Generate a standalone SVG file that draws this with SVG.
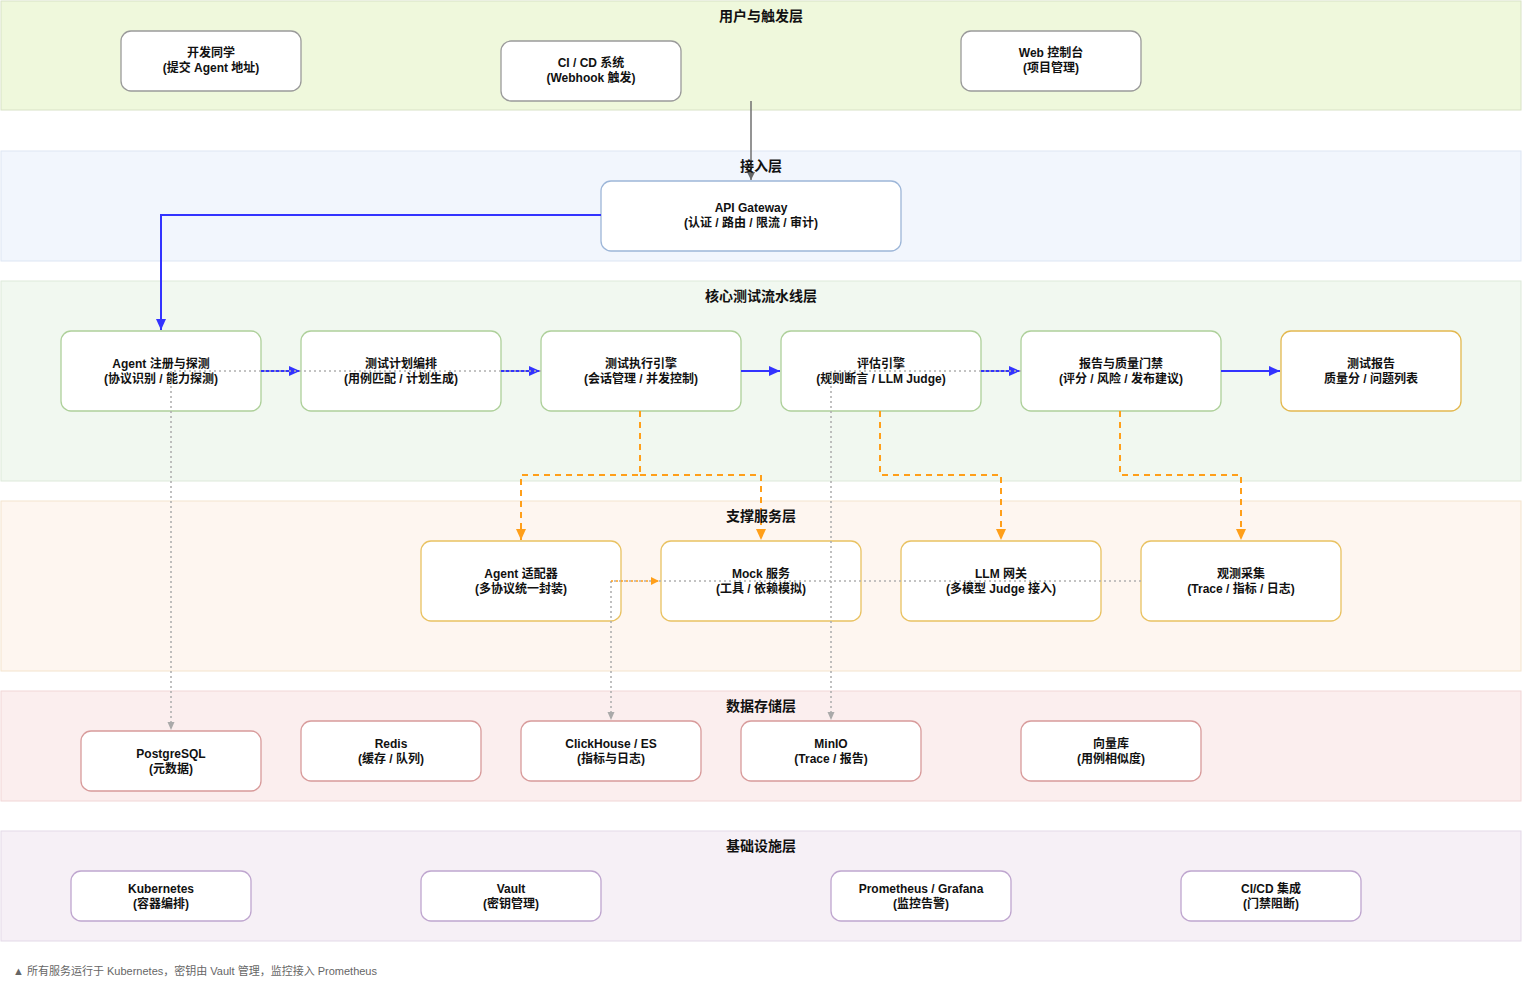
<svg xmlns="http://www.w3.org/2000/svg" width="1522" height="981" viewBox="0 0 1522 981">
<defs>
<style>
text{font-family:"Liberation Sans","Noto Sans CJK SC",sans-serif;font-weight:bold;fill:#111;text-anchor:middle}
.t{font-size:14px}
.n{font-size:12px}
.foot{font-size:11px;font-weight:normal;fill:#666;text-anchor:start}
.node{fill:#fff;stroke-width:1.3}
.g0{stroke:#9a9a9a}.g1{stroke:#9db6d8}.g2{stroke:#aed09a}.g2o{stroke:#e3b84f}.g3{stroke:#e9c262}.g4{stroke:#d89b9b}.g5{stroke:#bfa6cf}
.blue{fill:none;stroke:#3333ff;stroke-width:2}
.org{fill:none;stroke:#ff9f1a;stroke-width:2;stroke-dasharray:6 5}
.dot{fill:none;stroke:#b0b0b0;stroke-width:1.6;stroke-dasharray:2 3}
.dark{fill:none;stroke:#707070;stroke-width:1.5}
</style>
<marker id="ab" markerUnits="userSpaceOnUse" markerWidth="12" markerHeight="12" refX="11" refY="6" orient="auto"><path d="M0,1 L11,6 L0,11 Z" fill="#3333ff"/></marker>
<marker id="ao" markerUnits="userSpaceOnUse" markerWidth="12" markerHeight="12" refX="11" refY="6" orient="auto"><path d="M0,1 L11,6 L0,11 Z" fill="#ff9f1a"/></marker>
<marker id="aos" markerUnits="userSpaceOnUse" markerWidth="10" markerHeight="10" refX="8" refY="5" orient="auto"><path d="M0,1 L8,5 L0,9 Z" fill="#ff9f1a"/></marker>
<marker id="ag" markerUnits="userSpaceOnUse" markerWidth="10" markerHeight="10" refX="8" refY="5" orient="auto"><path d="M0,1.5 L8,5 L0,8.5 Z" fill="#aaaaaa"/></marker>
<marker id="ad" markerUnits="userSpaceOnUse" markerWidth="10" markerHeight="10" refX="8" refY="5" orient="auto"><path d="M0,1 L8,5 L0,9 Z" fill="#666"/></marker>
</defs>
<rect width="1522" height="981" fill="#fff"/>

<g id="layers">
<g id="layer-user"><rect x="1" y="1" width="1520" height="109" fill="#eff8dc" stroke="#d8e2c6"/><text class="t" x="761" y="21">用户与触发层</text></g>
<g id="layer-access"><rect x="1" y="151" width="1520" height="110" fill="#f2f6fd" stroke="#dde6f3"/></g>
<g id="layer-core"><rect x="1" y="281" width="1520" height="200" fill="#f1f8f0" stroke="#dde9da"/><text class="t" x="761" y="301">核心测试流水线层</text></g>
<g id="layer-support"><rect x="1" y="501" width="1520" height="170" fill="#fef6f0" stroke="#f4e4cd"/></g>
<g id="layer-storage"><rect x="1" y="691" width="1520" height="110" fill="#fbeeee" stroke="#f1d6d6"/><text class="t" x="761" y="711">数据存储层</text></g>
<g id="layer-infra"><rect x="1" y="831" width="1520" height="110" fill="#f6f0f6" stroke="#e3d9e8"/><text class="t" x="761" y="851">基础设施层</text></g>
</g>

<g id="n-dev"><rect class="node g0" x="121" y="31" width="180" height="60" rx="10"/><text class="n" x="211" y="57">开发同学</text><text class="n" x="211" y="72">(提交 Agent 地址)</text></g>
<g id="n-cicd"><rect class="node g0" x="501" y="41" width="180" height="60" rx="10"/><text class="n" x="591" y="67">CI / CD 系统</text><text class="n" x="591" y="82">(Webhook 触发)</text></g>
<g id="n-web"><rect class="node g0" x="961" y="31" width="180" height="60" rx="10"/><text class="n" x="1051" y="57">Web 控制台</text><text class="n" x="1051" y="72">(项目管理)</text></g>

<g id="n-gw"><rect class="node g1" x="601" y="181" width="300" height="70" rx="10"/><text class="n" x="751" y="212">API Gateway</text><text class="n" x="751" y="227">(认证 / 路由 / 限流 / 审计)</text></g>

<g id="n-reg"><rect class="node g2" x="61" y="331" width="200" height="80" rx="10"/><text class="n" x="161" y="368">Agent 注册与探测</text><text class="n" x="161" y="383">(协议识别 / 能力探测)</text></g>
<g id="n-plan"><rect class="node g2" x="301" y="331" width="200" height="80" rx="10"/><text class="n" x="401" y="368">测试计划编排</text><text class="n" x="401" y="383">(用例匹配 / 计划生成)</text></g>
<g id="n-exec"><rect class="node g2" x="541" y="331" width="200" height="80" rx="10"/><text class="n" x="641" y="368">测试执行引擎</text><text class="n" x="641" y="383">(会话管理 / 并发控制)</text></g>
<g id="n-eval"><rect class="node g2" x="781" y="331" width="200" height="80" rx="10"/><text class="n" x="881" y="368">评估引擎</text><text class="n" x="881" y="383">(规则断言 / LLM Judge)</text></g>
<g id="n-gate"><rect class="node g2" x="1021" y="331" width="200" height="80" rx="10"/><text class="n" x="1121" y="368">报告与质量门禁</text><text class="n" x="1121" y="383">(评分 / 风险 / 发布建议)</text></g>
<g id="n-report"><rect class="node g2o" x="1281" y="331" width="180" height="80" rx="10"/><text class="n" x="1371" y="368">测试报告</text><text class="n" x="1371" y="383">质量分 / 问题列表</text></g>

<g id="n-adapter"><rect class="node g3" x="421" y="541" width="200" height="80" rx="10"/><text class="n" x="521" y="578">Agent 适配器</text><text class="n" x="521" y="593">(多协议统一封装)</text></g>
<g id="n-mock"><rect class="node g3" x="661" y="541" width="200" height="80" rx="10"/><text class="n" x="761" y="578">Mock 服务</text><text class="n" x="761" y="593">(工具 / 依赖模拟)</text></g>
<g id="n-llm"><rect class="node g3" x="901" y="541" width="200" height="80" rx="10"/><text class="n" x="1001" y="578">LLM 网关</text><text class="n" x="1001" y="593">(多模型 Judge 接入)</text></g>
<g id="n-obs"><rect class="node g3" x="1141" y="541" width="200" height="80" rx="10"/><text class="n" x="1241" y="578">观测采集</text><text class="n" x="1241" y="593">(Trace / 指标 / 日志)</text></g>

<g id="n-pg"><rect class="node g4" x="81" y="731" width="180" height="60" rx="10"/><text class="n" x="171" y="758">PostgreSQL</text><text class="n" x="171" y="773">(元数据)</text></g>
<g id="n-redis"><rect class="node g4" x="301" y="721" width="180" height="60" rx="10"/><text class="n" x="391" y="748">Redis</text><text class="n" x="391" y="763">(缓存 / 队列)</text></g>
<g id="n-ch"><rect class="node g4" x="521" y="721" width="180" height="60" rx="10"/><text class="n" x="611" y="748">ClickHouse / ES</text><text class="n" x="611" y="763">(指标与日志)</text></g>
<g id="n-minio"><rect class="node g4" x="741" y="721" width="180" height="60" rx="10"/><text class="n" x="831" y="748">MinIO</text><text class="n" x="831" y="763">(Trace / 报告)</text></g>
<g id="n-vec"><rect class="node g4" x="1021" y="721" width="180" height="60" rx="10"/><text class="n" x="1111" y="748">向量库</text><text class="n" x="1111" y="763">(用例相似度)</text></g>

<g id="n-k8s"><rect class="node g5" x="71" y="871" width="180" height="50" rx="10"/><text class="n" x="161" y="893">Kubernetes</text><text class="n" x="161" y="908">(容器编排)</text></g>
<g id="n-vault"><rect class="node g5" x="421" y="871" width="180" height="50" rx="10"/><text class="n" x="511" y="893">Vault</text><text class="n" x="511" y="908">(密钥管理)</text></g>
<g id="n-prom"><rect class="node g5" x="831" y="871" width="180" height="50" rx="10"/><text class="n" x="921" y="893">Prometheus / Grafana</text><text class="n" x="921" y="908">(监控告警)</text></g>
<g id="n-cicdi"><rect class="node g5" x="1181" y="871" width="180" height="50" rx="10"/><text class="n" x="1271" y="893">CI/CD 集成</text><text class="n" x="1271" y="908">(门禁阻断)</text></g>

<g id="connectors">
<path class="dark" d="M751,101 V180" marker-end="url(#ad)"/>
<path class="blue" d="M601,215 H161 V330" marker-end="url(#ab)"/>
<path class="blue" d="M261,371 H300" marker-end="url(#ab)"/>
<path class="blue" d="M501,371 H540" marker-end="url(#ab)"/>
<path class="blue" d="M741,371 H780" marker-end="url(#ab)"/>
<path class="blue" d="M981,371 H1020" marker-end="url(#ab)"/>
<path class="blue" d="M1221,371 H1280" marker-end="url(#ab)"/>
<path class="org" d="M640,411 V475 H521 V540" marker-end="url(#ao)"/>
<path class="org" d="M640,475 H761 V540" marker-end="url(#ao)"/>
<path class="org" d="M880,411 V475 H1001 V540" marker-end="url(#ao)"/>
<path class="org" d="M1120,411 V475 H1241 V540" marker-end="url(#ao)"/>
<path class="dot" d="M541,371 H171 V730" marker-end="url(#ag)"/>
<path class="dot" d="M1021,371 H831 V720" marker-end="url(#ag)"/>
<path class="dot" d="M1141,581 H611 V720" marker-end="url(#ag)"/>
<path class="dot" d="M611,581 H659" style="stroke:#ff9f1a" marker-end="url(#aos)"/>
</g>

<text class="t" x="761" y="171">接入层</text>
<text class="t" x="761" y="521">支撑服务层</text>
<text class="foot" x="13" y="975">▲ 所有服务运行于 Kubernetes，密钥由 Vault 管理，监控接入 Prometheus</text>
</svg>
